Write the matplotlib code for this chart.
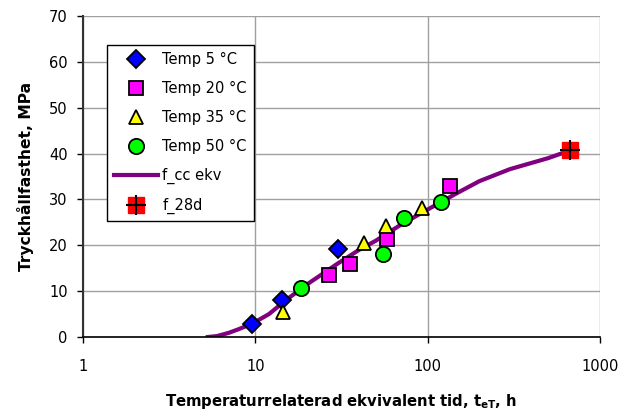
import matplotlib
matplotlib.use('Agg')
import matplotlib.pyplot as plt
from matplotlib.lines import Line2D

plt.rcParams['font.family'] = ['DejaVu Sans']
plt.rcParams['mathtext.default'] = 'regular'

# measured series (equivalent time h, strength MPa)
t5 = [9.6, 14.3, 30.2]
f5 = [2.8, 8.1, 19.2]
t20 = [26.8, 35.4, 58.1, 134.8]
f20 = [13.5, 15.9, 21.4, 32.9]
t35 = [14.5, 42.7, 57.4, 92.7]
f35 = [5.5, 20.5, 24.2, 28.1]
t50 = [18.4, 55.1, 72.9, 119.6]
f50 = [10.7, 18.1, 25.9, 29.4]

# strength development curve
t_cc = [5.3, 6, 7, 8, 9, 10, 12, 15, 20, 30, 40, 50, 70, 100, 150, 200, 300, 500, 672]
f_cc = [0.0, 0.2, 0.9, 1.7, 2.5, 3.3, 5.0, 8.0, 11.5, 16.0, 19.0, 21.0, 24.5, 27.8, 31.5, 34.0, 36.6, 39.0, 40.7]

t28 = [672]
f28 = [40.7]

fig = plt.figure(figsize=(6.19, 4.11), dpi=100)
ax = fig.add_axes([83 / 619, 1 - 337 / 411, 517 / 619, 321 / 411])

ax.plot(t_cc, f_cc, color='#800080', lw=3, zorder=2)
mk = dict(ls='none', mec='black', mew=1.3, zorder=3)
ax.plot(t5, f5, marker='D', ms=9, mfc='#0000ff', **mk)
ax.plot(t20, f20, marker='s', ms=9.5, mfc='#ff00ff', **mk)
ax.plot(t35, f35, marker='^', ms=10, mfc='#ffff00', **mk)
ax.plot(t50, f50, marker='o', ms=11, mfc='#00ff00', **mk)
ax.plot(t28, f28, marker='s', ms=11, mfc='#ff0000', mec='#ff0000', ls='none', zorder=4)
ax.plot(t28, f28, marker='+', ms=14, mew=1.5, color='black', ls='none', zorder=5)

ax.set_xscale('log')
ax.set_xlim(1, 1000)
ax.set_ylim(0, 70)
ax.set_yticks(range(0, 71, 10))
ax.set_xticks([1, 10, 100, 1000])
ax.set_xticklabels(['1', '10', '100', '1000'])
ax.minorticks_off()
ax.grid(True, color='#a0a0a0', lw=1)
ax.set_axisbelow(True)
for s in ['top', 'right']:
    ax.spines[s].set_visible(False)
ax.spines['left'].set_linewidth(1.5)
ax.spines['left'].set_color('#333333')
ax.spines['bottom'].set_linewidth(1.2)
ax.tick_params(direction='out', length=4, width=1, labelsize=10.5, pad=7)
ax.tick_params(axis='x', pad=12)

ax.set_xlabel('Temperaturrelaterad ekvivalent tid, t$_{eT}$, h',
              fontsize=10.7, fontweight='bold', labelpad=13)
ax.set_ylabel('Tryckhållfasthet, MPa', fontsize=11.2, fontweight='bold', labelpad=11)

handles = [
    Line2D([], [], marker='D', ms=9, mfc='#0000ff', mec='black', mew=1.3, ls='none'),
    Line2D([], [], marker='s', ms=9.5, mfc='#ff00ff', mec='black', mew=1.3, ls='none'),
    Line2D([], [], marker='^', ms=10, mfc='#ffff00', mec='black', mew=1.3, ls='none'),
    Line2D([], [], marker='o', ms=11, mfc='#00ff00', mec='black', mew=1.3, ls='none'),
    Line2D([], [], color='#800080', lw=3),
    (Line2D([], [], marker='s', ms=11, mfc='#ff0000', mec='#ff0000', ls='none'),
     Line2D([], [], marker='+', ms=14, mew=1.5, color='black', ls='none')),
]
labels = ['Temp 5 °C', 'Temp 20 °C', 'Temp 35 °C', 'Temp 50 °C', 'f_cc ekv', 'f_28d']
leg = ax.legend(handles, labels, loc='upper left', bbox_to_anchor=(0.046, 0.91),
                borderaxespad=0, fancybox=False, edgecolor='black', framealpha=1,
                fontsize=10.5, labelspacing=0.95, handlelength=3.0, handletextpad=0.3,
                borderpad=0.5)
leg.get_frame().set_linewidth(1)

fig.savefig('out.png', dpi=100)
